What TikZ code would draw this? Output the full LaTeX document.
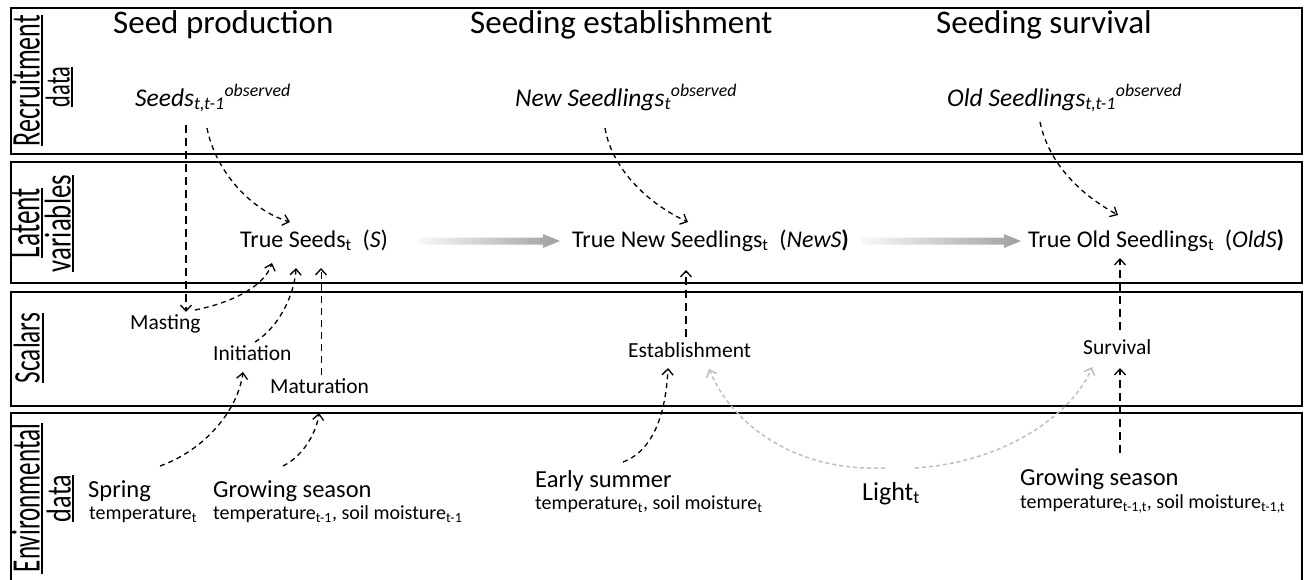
\documentclass[tikz,border=0pt]{standalone}
\usepackage{fontspec}
\setmainfont{Carlito}
\usetikzlibrary{arrows.meta,calc}
\begin{document}
\begin{tikzpicture}[x=1pt,y=-1pt,
  panel/.style={draw=black,line width=1.8pt},
  ttl/.style={font=\fontsize{33}{36}\selectfont, anchor=base west, inner sep=0},
  obs/.style={font=\fontsize{25.5}{28}\selectfont\itshape, anchor=base west, inner sep=0},
  lat/.style={font=\fontsize{24}{26}\selectfont, anchor=base west, inner sep=0},
  scl/.style={font=\fontsize{21.5}{24}\selectfont, anchor=base west, inner sep=0},
  envm/.style={font=\fontsize{24.5}{28}\selectfont, anchor=base west, inner sep=0},
  envs/.style={font=\fontsize{20}{22}\selectfont, anchor=base west, inner sep=0},
  side/.style={rotate=90, anchor=south, inner sep=0, font=\fontsize{20}{20}\selectfont},
  uline/.style={line width=1.5pt},
  dar/.style={draw=black, line width=1.3pt, dash pattern=on 5pt off 4pt,
    -{Straight Barb[length=6pt,width=11pt,line width=1.3pt]}},
  var/.style={draw=black, line width=1.3pt, dash pattern=on 8pt off 5pt,
    -{Straight Barb[length=6pt,width=11pt,line width=1.3pt]}},
  gar/.style={draw=gray!50, line width=1.5pt, dash pattern=on 4pt off 3pt,
    -{Straight Barb[length=6pt,width=11pt,line width=1.5pt]}},
  blk/.style={left color=gray!5, right color=gray!75, draw=none}
]
\useasboundingbox (0,0) rectangle (1306,579);
\fill[white] (0,0) rectangle (1306,579);

% panels
\draw[panel] (11,8) rectangle (1302,154);
\draw[panel] (11,162) rectangle (1302,283);
\draw[panel] (11,292) rectangle (1302,406);
\draw[panel] (11,413) rectangle (1302,590);

% side labels
\node[side] (labR) at (40,80.5) {\resizebox{131pt}{28pt}{Recruitment}};
\node[side] (labRd) at (70,87) {\resizebox{40pt}{24pt}{data}};
\draw[uline] (42,15) -- (42,146);
\draw[uline] (72,67) -- (72,107);
\node[side] (labL) at (40,223) {\resizebox{70pt}{28pt}{Latent}};
\node[side] (labLv) at (71,223.5) {\resizebox{97pt}{26pt}{variables}};
\draw[uline] (42,188) -- (42,258);
\draw[uline] (73,175) -- (73,272);
\node[side] (labS) at (40,348) {\resizebox{70pt}{26pt}{Scalars}};
\draw[uline] (43,313) -- (43,383);
\node[side] (labE) at (40,498) {\resizebox{148pt}{28pt}{Environmental}};
\node[side] (labEd) at (71,498.5) {\resizebox{47pt}{24pt}{data}};
\draw[uline] (42,423) -- (42,574);
\draw[uline] (73,475) -- (73,522);

% titles
\node[ttl] (t1) at (113,33) {Seed production};
\node[ttl] (t2) at (470,33) {Seeding establishment};
\node[ttl] (t3) at (936,33) {Seeding survival};

% observed
\node[obs] (obsS) at (135,106) {Seeds\textsubscript{t,t-1}\textsuperscript{observed}};
\node[obs] (obsN) at (515,106) {New Seedlings\textsubscript{t}\textsuperscript{observed}};
\node[obs] (obsO) at (947,106) {Old Seedlings\textsubscript{t,t-1}\textsuperscript{observed}};

% latent
\node[lat] (trueS) at (240,247) {True Seeds\textsubscript{t}\hspace{0.45em}(\textit{S})};
\node[lat] (trueN) at (572,247) {True New Seedlings\textsubscript{t}\hspace{0.45em}(\textit{NewS}\textbf{)}};
\node[lat] (trueO) at (1028,247) {True Old Seedlings\textsubscript{t}\hspace{0.45em}(\textit{OldS}\textbf{)}};

% block arrows
\coordinate (b1s) at (418,241);
\coordinate (b1e) at (560,241);
\coordinate (b2s) at (861,241);
\coordinate (b2e) at (1021,241);
\shade[blk] (b1s) ++(0,-3.5) -- ++(125,0) -- ++(0,-3.5) -- (b1e) -- ++(-17,7) -- ++(0,-3.5) -- ++(-125,0) -- cycle;
\shade[blk] (b2s) ++(0,-3.5) -- ++(143,0) -- ++(0,-3.5) -- (b2e) -- ++(-17,7) -- ++(0,-3.5) -- ++(-143,0) -- cycle;

% scalars
\node[scl] (mast) at (130,329) {Masting};
\node[scl] (init) at (213,360) {Initiation};
\node[scl] (matu) at (270,393) {Maturation};
\node[scl] (estab) at (628,357) {Establishment};
\node[scl] (surv) at (1083,354) {Survival};

% environmental
\node[envm] (spring) at (88,497) {Spring};
\node[envs] (springv) at (89,519) {temperature\textsubscript{t}};
\node[envm] (grow1) at (213,497) {Growing season};
\node[envs] (grow1v) at (213,519) {temperature\textsubscript{t-1}, soil moisture\textsubscript{t-1}};
\node[envm] (early) at (535,487) {Early summer};
\node[envs] (earlyv) at (535,509) {temperature\textsubscript{t}, soil moisture\textsubscript{t}};
\node[envm, font=\fontsize{26}{28}\selectfont] (light) at (862,500) {Light\textsubscript{t}};
\node[envm] (grow2) at (1020,485) {Growing season};
\node[envs] (grow2v) at (1020,508) {temperature\textsubscript{t-1,t}, soil moisture\textsubscript{t-1,t}};

% connector end points
\coordinate (eS1) at (290,222);
\coordinate (eS2) at (272,263);
\coordinate (eS3) at (296,268);
\coordinate (eS4) at (321,268);
\coordinate (eN1) at (688,222);
\coordinate (eN2) at (686,270);
\coordinate (eO1) at (1118,215);
\coordinate (eO2) at (1120,258);
\coordinate (eMa) at (186,312);
\coordinate (eIn) at (243,372);
\coordinate (eMt) at (319,413);
\coordinate (eEs1) at (668,368);
\coordinate (eEs2) at (709,369);
\coordinate (eSu1) at (1092,367);
\coordinate (eSu2) at (1120,368);

% seed production
\draw[var] (186,125) -- (eMa);
\draw[dar] (207,128) .. controls (215,170) and (250,210) .. (eS1);
\draw[dar] (195,310) .. controls (235,302) and (265,285) .. (eS2);
\draw[dar] (255,342) .. controls (282,325) and (295,290) .. (eS3);
\draw[dar, line width=1pt, dash pattern=on 7pt off 5pt] (321,375) -- (eS4);
\draw[dar] (160,466) .. controls (205,450) and (238,410) .. (eIn);
\draw[dar] (283,466) .. controls (305,455) and (317,430) .. (eMt);

% establishment
\draw[dar] (605,128) .. controls (612,170) and (650,205) .. (eN1);
\draw[var] (686,337) -- (eN2);
\draw[dar] (623,462) .. controls (655,450) and (666,410) .. (eEs1);
\draw[gar] (885,468) .. controls (790,472) and (730,420) .. (eEs2);

% survival
\draw[dar] (1040,122) .. controls (1050,170) and (1090,200) .. (eO1);
\draw[var] (1120,330) -- (eO2);
\draw[var] (1120,453) -- (eSu2);
\draw[gar] (915,468) .. controls (1010,462) and (1075,410) .. (eSu1);
\end{tikzpicture}
\end{document}
